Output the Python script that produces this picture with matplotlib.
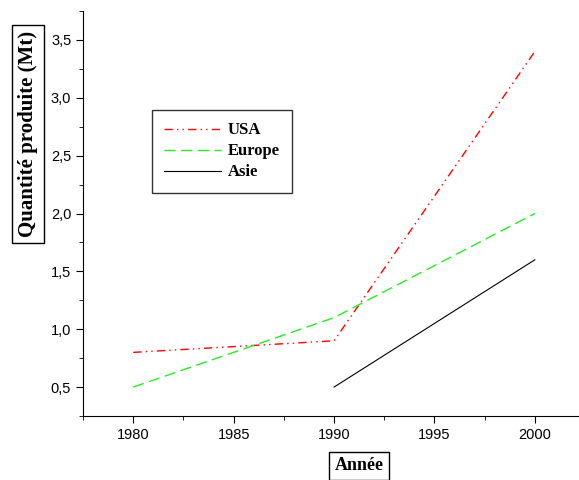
import matplotlib.pyplot as plt
from matplotlib.ticker import MultipleLocator, FuncFormatter

annees_usa = [1980, 1990, 2000]
usa = [0.8, 0.9, 3.4]
annees_europe = [1980, 1990, 2000]
europe = [0.5, 1.1, 2.0]
annees_asie = [1990, 2000]
asie = [0.5, 1.6]

fig = plt.figure(figsize=(5.79, 4.8), dpi=100)
ax = fig.add_axes([0.1434, 0.1333, 0.8566, 0.8437])

ax.plot(annees_usa, usa, color='red', lw=1, dashes=(6, 3, 1, 3, 1, 3), label='USA')
ax.plot(annees_europe, europe, color='#22ee22', lw=1, dashes=(8, 4), label='Europe')
ax.plot(annees_asie, asie, color='black', lw=0.8, label='Asie')

ax.set_xlim(1977.5, 2002.2)
ax.set_ylim(0.25, 3.75)
ax.xaxis.set_major_locator(MultipleLocator(5))
ax.xaxis.set_minor_locator(MultipleLocator(2.5))
ax.yaxis.set_major_locator(MultipleLocator(0.5))
ax.yaxis.set_minor_locator(MultipleLocator(0.25))
ax.yaxis.set_major_formatter(FuncFormatter(lambda v, p: f"{v:.1f}".replace('.', ',')))

for s in ['top', 'right']:
    ax.spines[s].set_visible(False)
ax.tick_params(which='major', direction='out', length=5, labelsize=10.5)
ax.tick_params(which='minor', direction='out', length=3)
for lab in ax.get_xticklabels() + ax.get_yticklabels():
    lab.set_fontfamily('Liberation Sans')

boite = dict(boxstyle='square,pad=0.3', fc='white', ec='black', lw=1)
fig.text(0.048, 0.721, 'Quantité produite (Mt)', rotation=90, ha='center', va='center',
         family='Liberation Serif', weight='bold', fontsize=15, bbox=boite)
fig.text(0.62, 0.03, 'Année', ha='center', va='center',
         family='Liberation Serif', weight='bold', fontsize=13, bbox=boite)

leg = ax.legend(loc='upper left', bbox_to_anchor=(0.139, 0.756), frameon=True, fancybox=False,
                edgecolor='black', handlelength=3.4, borderpad=0.75, labelspacing=0.3,
                handletextpad=0.4, borderaxespad=0,
                prop={'family': 'Liberation Serif', 'weight': 'bold', 'size': 12})
leg.get_frame().set_linewidth(1)

fig.savefig('out.png', dpi=100)
